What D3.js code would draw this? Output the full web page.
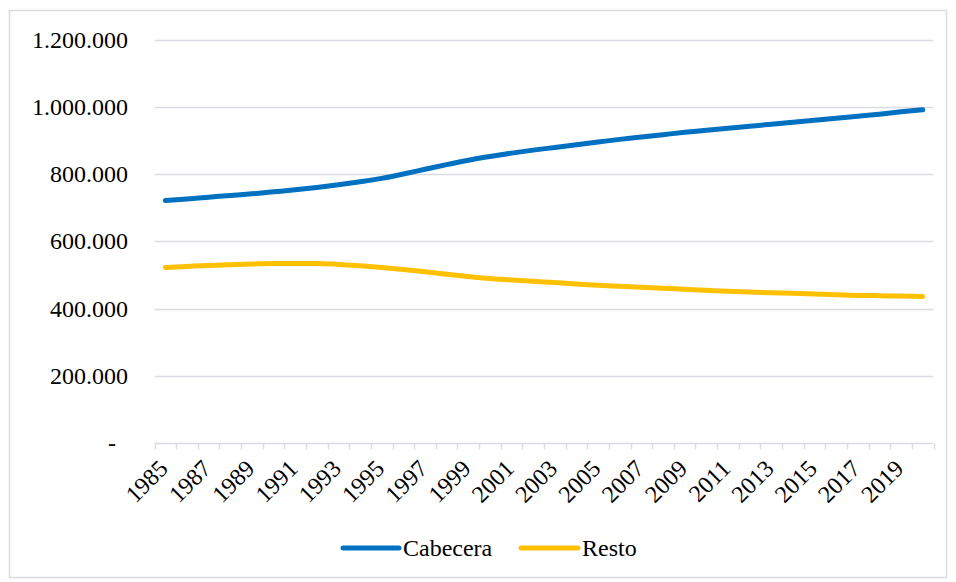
<!DOCTYPE html>
<html>
<head>
<meta charset="utf-8">
<script src="https://cdn.jsdelivr.net/npm/d3@7"></script>
<style>
  html, body { margin: 0; padding: 0; background: #fff; }
  svg { display: block; }
  svg text { font-family: "Liberation Serif", Tinos, "Times New Roman", "DejaVu Serif", serif; }
</style>
</head>
<body>
<svg id="chart" width="956" height="582"></svg>
<script>
const years = d3.range(1985, 2021).map(String);
const cabecera = [721000, 726000, 731000, 736000, 741000, 747000, 753000, 760000, 768000, 777000,
                  787000, 800000, 814000, 828000, 841000, 852000, 862000, 871000, 879000, 887000,
                  895000, 903000, 910000, 917000, 924000, 930000, 936000, 942000, 948000, 954000,
                  960000, 966000, 972000, 978000, 985000, 991000];
const resto = [522000, 525000, 528000, 530000, 532000, 534000, 534000, 534000, 531000, 527000,
               522000, 516000, 509000, 502000, 495000, 489000, 485000, 481000, 477000, 473000,
               469000, 466000, 463000, 460000, 457000, 454000, 451000, 449000, 447000, 445000,
               443000, 441000, 439000, 438000, 437000, 436000];
const seriesNames = ["Cabecera", "Resto"];
const seriesColors = ["#0070C0", "#FFC000"];
const yTicks = [0, 200000, 400000, 600000, 800000, 1000000, 1200000];
const xLabelYears = years.filter((d, i) => i % 2 === 0);

const svg = d3.select("#chart");
const gridColor = "#D9DCE3";
const fontSize = 24;

// outer border
svg.append("rect").attr("x", 9.5).attr("y", 10.5).attr("width", 937).attr("height", 567)
  .attr("fill", "none").attr("stroke", gridColor).attr("stroke-width", 1.5);

const x = d3.scaleBand().domain(years).range([154.5, 933.5]);
const y = d3.scaleLinear().domain([0, 1200000]).range([443, 39.5]);

const loc = d3.formatLocale({decimal: ",", thousands: ".", grouping: [3], currency: ["$", ""]});
const fmt = loc.format(",.0f");

// gridlines
svg.append("g").selectAll("line").data(yTicks.filter(d => d > 0)).join("line")
  .attr("x1", 154.5).attr("x2", 933.5)
  .attr("y1", d => Math.round(y(d)) + 0.5).attr("y2", d => Math.round(y(d)) + 0.5)
  .attr("stroke", gridColor).attr("stroke-width", 1.5);

// y axis labels
const yAxis = d3.axisLeft(y).tickValues(yTicks).tickSize(0).tickPadding(0)
  .tickFormat(d => d === 0 ? "-" : fmt(d));
const gy = svg.append("g").attr("transform", "translate(128,0)").call(yAxis);
gy.attr("font-family", null).attr("font-size", null);
gy.select(".domain").remove();
gy.selectAll("text").style("font-size", fontSize + "px").attr("fill", "#000")
  .attr("x", d => d === 0 ? -12 : 0);

// x axis
const tickPositions = years.map(d => x(d)).concat([x.range()[1]]);
const gx = svg.append("g");
gx.append("line").attr("x1", 154.5).attr("x2", 933.5).attr("y1", 443.5).attr("y2", 443.5)
  .attr("stroke", gridColor).attr("stroke-width", 1.5);
gx.selectAll("line.tick").data(tickPositions).join("line").attr("class", "tick")
  .attr("x1", d => Math.round(d) + 0.5).attr("x2", d => Math.round(d) + 0.5)
  .attr("y1", 443.5).attr("y2", 449.5)
  .attr("stroke", gridColor).attr("stroke-width", 1.5);
gx.selectAll("text").data(xLabelYears).join("text")
  .attr("transform", d => `translate(${x(d) + x.bandwidth() / 2 + 4},470) rotate(-45)`)
  .attr("text-anchor", "end").style("font-size", fontSize + "px").attr("fill", "#000")
  .text(d => d);

// lines
const line = d3.line().x((d, i) => x(years[i]) + x.bandwidth() / 2).y(d => y(d))
  .curve(d3.curveMonotoneX);
[cabecera, resto].forEach((s, k) => {
  svg.append("path").datum(s).attr("d", line).attr("fill", "none")
    .attr("stroke", seriesColors[k]).attr("stroke-width", 5)
    .attr("stroke-linecap", "round").attr("stroke-linejoin", "round");
});

// legend
const legendItems = [{x1: 343, x2: 399, tx: 403}, {x1: 521, x2: 578, tx: 582}];
legendItems.forEach((l, k) => {
  svg.append("line").attr("x1", l.x1).attr("x2", l.x2).attr("y1", 548).attr("y2", 548)
    .attr("stroke", seriesColors[k]).attr("stroke-width", 5).attr("stroke-linecap", "round");
  svg.append("text").attr("x", l.tx).attr("y", 556).style("font-size", fontSize + "px")
    .attr("fill", "#000").text(seriesNames[k]);
});
</script>
</body>
</html>
